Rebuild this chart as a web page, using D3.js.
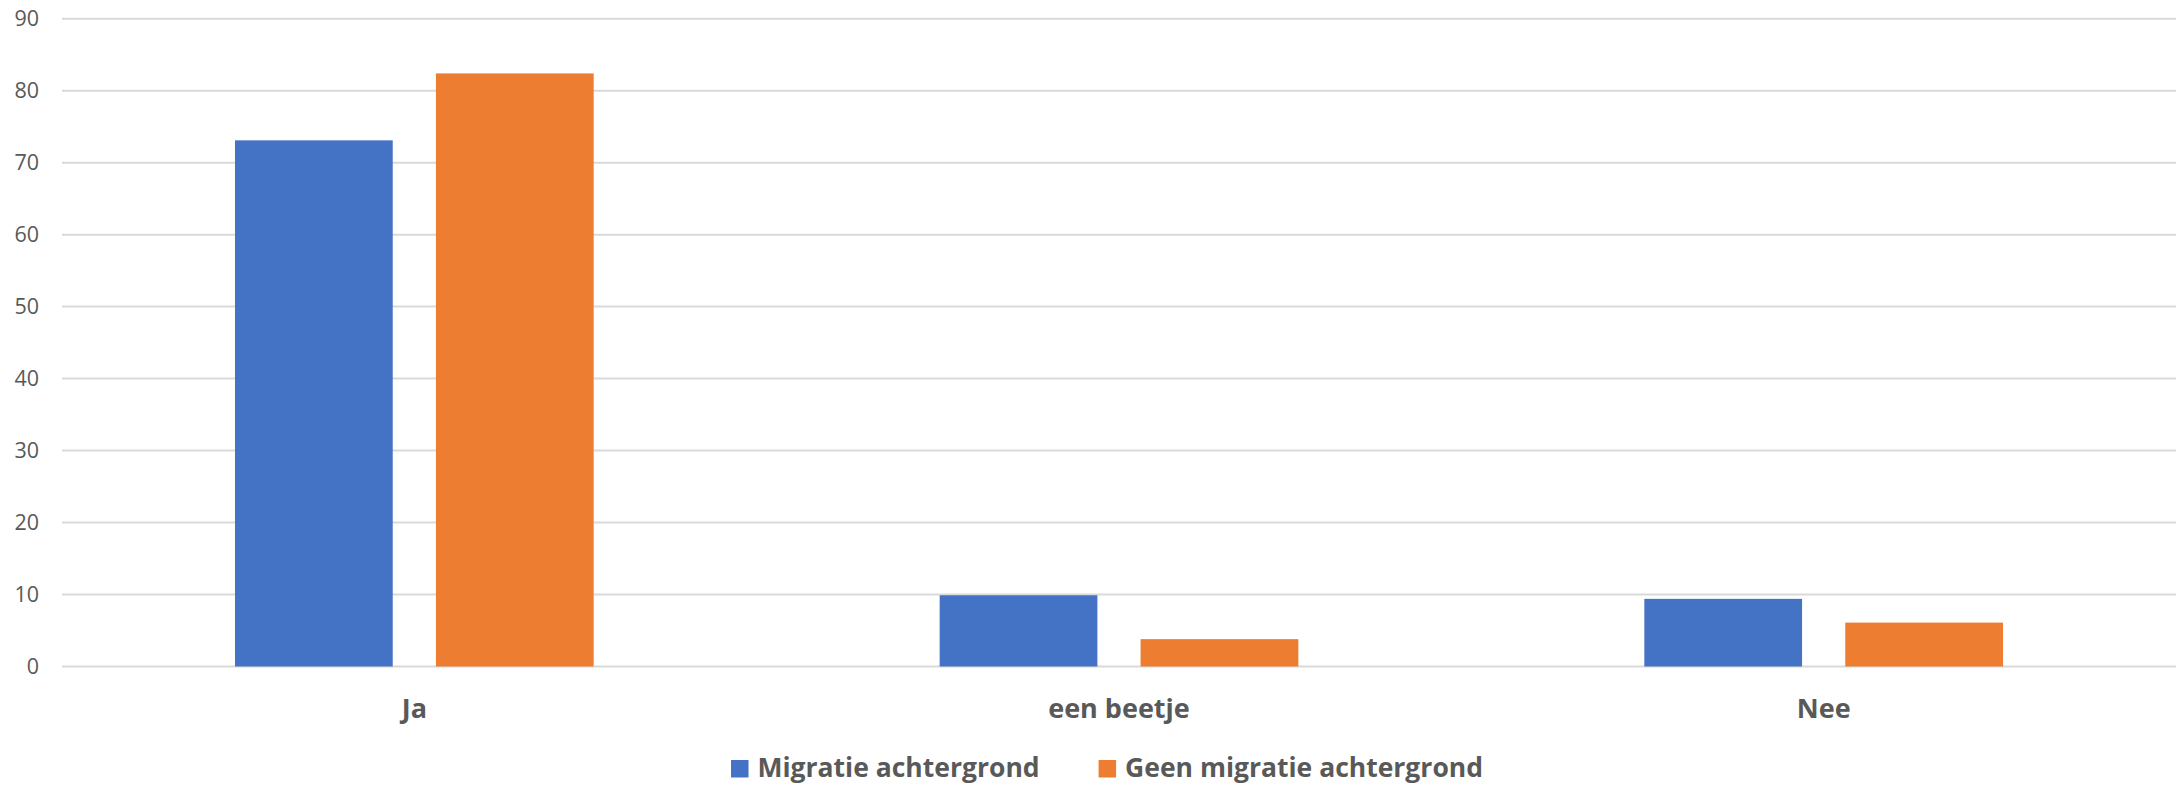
<!DOCTYPE html>
<html>
<head>
<meta charset="utf-8">
<script src="https://cdn.jsdelivr.net/npm/d3@7"></script>
<style>
  html, body { margin: 0; padding: 0; background: #fff; }
  svg { display: block; font-family: "Open Sans", sans-serif; }
</style>
</head>
<body>
<div id="chart"></div>
<script>
const categories = ['Ja', 'een beetje', 'Nee'];
const series = ['Migratie achtergrond', 'Geen migratie achtergrond'];
const migratie = [73.1, 9.9, 9.4];
const geenMigratie = [82.4, 3.8, 6.1];
const yTicks = [0, 10, 20, 30, 40, 50, 60, 70, 80, 90];

const colors = ['#4472c4', '#ed7d31'];

const width = 2178;
const height = 785;
const plot = { left: 62, right: 2176, top: 18.7, bottom: 666.5 };

const svg = d3.select('#chart')
  .append('svg')
  .attr('width', width)
  .attr('height', height);

const y = d3.scaleLinear()
  .domain([0, 90])
  .range([plot.bottom, plot.top]);

const x0 = d3.scaleBand()
  .domain(categories)
  .range([plot.left, plot.right])
  .padding(0);

// bars sit in the middle half of each band, with a small gap between them
const x1 = d3.scaleBand()
  .domain(series)
  .range([x0.bandwidth() * 0.2455, x0.bandwidth() * 0.7545])
  .paddingInner(0.215);

// gridlines
svg.append('g')
  .selectAll('line')
  .data(yTicks)
  .enter().append('line')
  .attr('x1', plot.left)
  .attr('x2', plot.right)
  .attr('y1', (d) => y(d))
  .attr('y2', (d) => y(d))
  .attr('stroke', '#d9d9d9')
  .attr('stroke-width', 2);

// y tick labels
svg.append('g')
  .selectAll('text')
  .data(yTicks)
  .enter().append('text')
  .attr('x', 39)
  .attr('y', (d) => y(d))
  .attr('dy', '0.36em')
  .attr('text-anchor', 'end')
  .attr('fill', '#595959')
  .style('font-size', '21.5px')
  .text((d) => d);

const rows = categories.map((c, i) => ({
  category: c,
  values: [migratie[i], geenMigratie[i]]
}));

const group = svg.append('g')
  .selectAll('g')
  .data(rows)
  .enter().append('g')
  .attr('transform', (d) => `translate(${x0(d.category)},0)`);

group.selectAll('rect')
  .data((d) => d.values.map((v, i) => ({ key: series[i], value: v, i: i })))
  .enter().append('rect')
  .attr('x', (d) => x1(d.key))
  .attr('width', x1.bandwidth())
  .attr('y', (d) => y(d.value))
  .attr('height', (d) => y(0) - y(d.value))
  .attr('fill', (d) => colors[d.i]);

// x labels
svg.append('g')
  .selectAll('text')
  .data(categories)
  .enter().append('text')
  .attr('x', (d) => x0(d) + x0.bandwidth() / 2)
  .attr('y', 717.7)
  .attr('text-anchor', 'middle')
  .attr('fill', '#595959')
  .style('font-size', '27px')
  .style('font-weight', 'bold')
  .text((d) => d);

// legend
const legend = svg.append('g');
const items = legend.selectAll('g')
  .data(series)
  .enter().append('g');

items.append('rect')
  .attr('width', 17.5)
  .attr('height', 17.5)
  .attr('y', 760)
  .attr('fill', (d, i) => colors[i]);

items.append('text')
  .attr('x', 26.5)
  .attr('y', 777.3)
  .attr('fill', '#595959')
  .style('font-size', '26.5px')
  .style('font-weight', 'bold')
  .text((d) => d);

let offset = 0;
const positions = [];
items.each(function () {
  const w = d3.select(this).select('text').node().getComputedTextLength() + 26.5;
  positions.push(offset);
  offset += w + 59;
});
const total = offset - 59;
const start = 1107 - total / 2;
items.attr('transform', (d, i) => `translate(${start + positions[i]},0)`);
</script>
</body>
</html>
